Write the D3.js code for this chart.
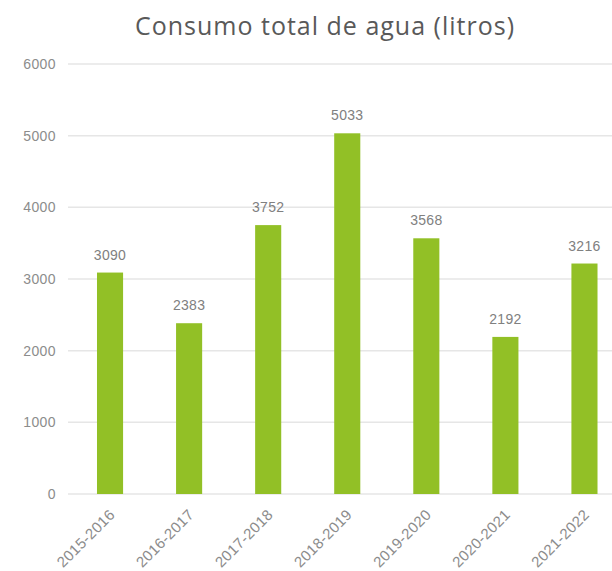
<!DOCTYPE html>
<html>
<head>
<meta charset="utf-8">
<script src="https://cdn.jsdelivr.net/npm/d3@7"></script>
<style>
  body { margin: 0; background: #fff; }
  svg { display: block; }
</style>
</head>
<body>
<div id="chart"></div>
<script>
// chart data
const seasons = ["2015-2016", "2016-2017", "2017-2018", "2018-2019", "2019-2020", "2020-2021", "2021-2022"];
const litros = [3090, 2383, 3752, 5033, 3568, 2192, 3216];
const yTicks = [0, 1000, 2000, 3000, 4000, 5000, 6000];

const width = 612, height = 571;
const gridLeft = 68, gridRight = 612;
const plotTop = 64, plotBottom = 494;

const svg = d3.select("#chart").append("svg")
    .attr("width", width)
    .attr("height", height);

// the original chart is a bit wider than the picture, so the band range runs past the right edge
const x = d3.scaleBand()
    .domain(seasons)
    .range([70.5, 624])
    .paddingInner(0.67)
    .paddingOuter(0.335);

const y = d3.scaleLinear()
    .domain([0, 6000])
    .range([plotBottom, plotTop]);

const labelFont = "'Liberation Sans', sans-serif";

// title
svg.append("text")
    .attr("x", 325)
    .attr("y", 35)
    .attr("text-anchor", "middle")
    .style("font-family", "'Open Sans', sans-serif")
    .style("font-size", "25px")
    .style("font-weight", "500")
    .style("letter-spacing", "1px")
    .style("fill", "#595959")
    .text("Consumo total de agua (litros)");

// gridlines
svg.append("g")
    .selectAll("line")
    .data(yTicks)
    .enter()
    .append("line")
    .attr("x1", gridLeft)
    .attr("x2", gridRight)
    .attr("y1", d => y(d))
    .attr("y2", d => y(d))
    .style("stroke", "#e6e6e6")
    .style("stroke-width", 1.5);

// y axis labels
const yAxis = svg.append("g")
    .attr("transform", `translate(${gridLeft},0)`)
    .call(d3.axisLeft(y).tickValues(yTicks).tickFormat(d3.format("d")).tickSize(0).tickPadding(12));
yAxis.select(".domain").remove();
yAxis.selectAll("text")
    .style("font-family", labelFont)
    .style("font-size", "14px")
    .style("letter-spacing", "0.4px")
    .style("fill", "#8c8c8c");

// bars
svg.append("g")
    .selectAll("rect")
    .data(litros)
    .enter()
    .append("rect")
    .attr("x", (d, i) => x(seasons[i]))
    .attr("y", d => y(d))
    .attr("width", x.bandwidth())
    .attr("height", d => y(0) - y(d))
    .style("fill", "#92c026");

// value labels
svg.append("g")
    .selectAll("text")
    .data(litros)
    .enter()
    .append("text")
    .attr("x", (d, i) => x(seasons[i]) + x.bandwidth() / 2)
    .attr("y", d => y(d) - 13)
    .attr("text-anchor", "middle")
    .style("font-family", labelFont)
    .style("font-size", "14px")
    .style("letter-spacing", "0.3px")
    .style("fill", "#808080")
    .text(d => d);

// x axis labels, rotated
const xAxis = svg.append("g")
    .attr("transform", `translate(0,${plotBottom})`)
    .call(d3.axisBottom(x).tickSize(0));
xAxis.select(".domain").remove();
xAxis.selectAll("text")
    .attr("x", 0)
    .attr("y", 0)
    .attr("dy", "0.35em")
    .attr("text-anchor", "end")
    .attr("transform", "translate(2,18) rotate(-45)")
    .style("font-family", labelFont)
    .style("font-size", "15px")
    .style("letter-spacing", "0.3px")
    .style("fill", "#8c8c8c");
</script>
</body>
</html>
